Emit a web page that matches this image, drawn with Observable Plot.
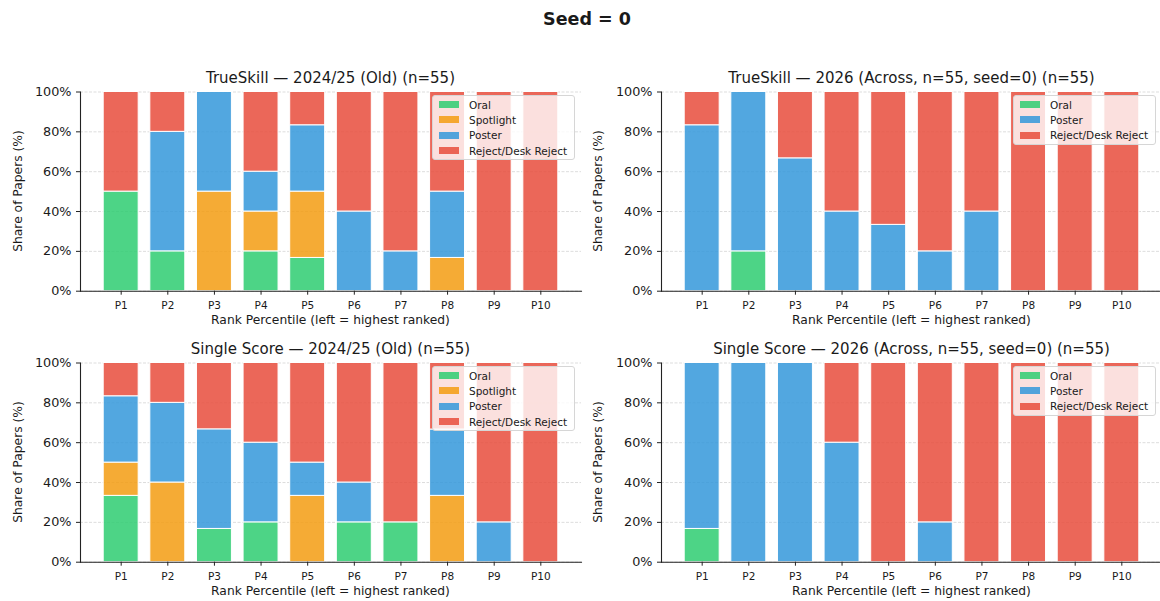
<!DOCTYPE html>
<html><head><meta charset="utf-8">
<script src="https://cdn.jsdelivr.net/npm/d3@7"></script>
<script src="https://cdn.jsdelivr.net/npm/@observablehq/plot@0.6"></script>
<style>
body{margin:0;width:1160px;height:601px;overflow:hidden;position:relative;background:#fff;font-family:"DejaVu Sans",sans-serif;color:#1a1a1a}
#title{position:absolute;left:387px;width:400px;top:8px;text-align:center;font-weight:bold;font-size:17.5px;line-height:22px}
.ptitle{position:absolute;text-align:center;font-size:15px;line-height:18px;white-space:nowrap}
.xlab{position:absolute;text-align:center;font-size:12.3px;line-height:14px;white-space:nowrap}
.ylab{position:absolute;font-size:12.3px;line-height:14px;white-space:nowrap;transform:translate(-50%,-50%) rotate(-90deg)}
.panel{position:absolute}
.panel svg{max-width:none !important}
.legend{position:absolute;width:141px;background:rgba(255,255,255,0.8);border:1px solid #d6d6d6;border-radius:3px;padding:1px 0;box-sizing:content-box}
.lrow{height:15.3px;display:flex;align-items:center;font-size:10.5px}
.sw{width:20px;height:7px;margin-left:6px;margin-right:10px}
</style></head>
<body>
<div id="title">Seed = 0</div>
<script>
const percentiles = ["P1","P2","P3","P4","P5","P6","P7","P8","P9","P10"];
const oldCategories = ["Oral","Spotlight","Poster","Reject/Desk Reject"];
const newCategories = ["Oral","Poster","Reject/Desk Reject"];
const categoryColors = {"Oral":"#2ecc71","Spotlight":"#f39c12","Poster":"#3498db","Reject/Desk Reject":"#e74c3c"};

// TrueSkill — 2024/25 (Old)
const tsOldOral      = [50, 20, 0, 20, 16.7, 0, 0, 0, 0, 0];
const tsOldSpotlight = [0, 0, 50, 20, 33.3, 0, 0, 16.7, 0, 0];
const tsOldPoster    = [0, 60, 50, 20, 33.3, 40, 20, 33.3, 0, 0];
const tsOldReject    = [50, 20, 0, 40, 16.7, 60, 80, 50, 100, 100];
// TrueSkill — 2026
const tsNewOral      = [0, 20, 0, 0, 0, 0, 0, 0, 0, 0];
const tsNewPoster    = [83.3, 80, 66.7, 40, 33.3, 20, 40, 0, 0, 0];
const tsNewReject    = [16.7, 0, 33.3, 60, 66.7, 80, 60, 100, 100, 100];
// Single Score — 2024/25 (Old)
const ssOldOral      = [33.3, 0, 16.7, 20, 0, 20, 20, 0, 0, 0];
const ssOldSpotlight = [16.7, 40, 0, 0, 33.3, 0, 0, 33.3, 0, 0];
const ssOldPoster    = [33.3, 40, 50, 40, 16.7, 20, 0, 33.3, 20, 0];
const ssOldReject    = [16.7, 20, 33.3, 40, 50, 60, 80, 33.4, 80, 100];
// Single Score — 2026
const ssNewOral      = [16.7, 0, 0, 0, 0, 0, 0, 0, 0, 0];
const ssNewPoster    = [83.3, 100, 100, 60, 0, 20, 0, 0, 0, 0];
const ssNewReject    = [0, 0, 0, 40, 100, 80, 100, 100, 100, 100];

const yTicks = [0, 20, 40, 60, 80, 100];
const titles = [
  "TrueSkill — 2024/25 (Old) (n=55)",
  "TrueSkill — 2026 (Across, n=55, seed=0) (n=55)",
  "Single Score — 2024/25 (Old) (n=55)",
  "Single Score — 2026 (Across, n=55, seed=0) (n=55)"
];
const xLabel = "Rank Percentile (left = highest ranked)";
const yLabel = "Share of Papers (%)";

const panels = [
  {left: 0,   top: 60,  width: 582, mL: 80, mR: 1, cats: oldCategories, series: [tsOldOral, tsOldSpotlight, tsOldPoster, tsOldReject], title: titles[0]},
  {left: 580, top: 60,  width: 584, mL: 81, mR: 2, cats: newCategories, series: [tsNewOral, tsNewPoster, tsNewReject], title: titles[1]},
  {left: 0,   top: 331, width: 582, mL: 80, mR: 1, cats: oldCategories, series: [ssOldOral, ssOldSpotlight, ssOldPoster, ssOldReject], title: titles[2]},
  {left: 580, top: 331, width: 584, mL: 81, mR: 2, cats: newCategories, series: [ssNewOral, ssNewPoster, ssNewReject], title: titles[3]}
];

const H = 270, mT = 31.5, mB = 39.3;

for (const p of panels) {
  const rows = [];
  percentiles.forEach((pc, i) => {
    p.cats.forEach((c, j) => {
      const v = p.series[j][i];
      if (v > 0) rows.push({p: pc, cat: c, v});
    });
  });
  const chart = Plot.plot({
    width: p.width, height: H,
    marginLeft: p.mL, marginRight: p.mR, marginTop: mT, marginBottom: mB,
    style: {fontFamily: "DejaVu Sans, sans-serif", color: "#1a1a1a", background: "transparent", overflow: "visible", maxWidth: "none"},
    x: {domain: percentiles, paddingInner: 0.25, paddingOuter: 0.4975, round: false},
    y: {domain: [0, 100]},
    color: {domain: p.cats, range: p.cats.map(c => categoryColors[c])},
    marks: [
      Plot.gridY(yTicks, {stroke: "#b0b0b0", strokeOpacity: 0.55, strokeDasharray: "3,1.5", strokeWidth: 0.8}),
      Plot.barY(rows, Plot.stackY({x: "p", y: "v", fill: "cat", fillOpacity: 0.85, stroke: "white", strokeWidth: 1, order: null})),
      Plot.axisX({tickSize: 4, tickPadding: 6, fontSize: 10.5, label: null, stroke: "#222"}),
      Plot.axisY({ticks: yTicks, tickFormat: d => d + "%", tickSize: 4, tickPadding: 5, fontSize: 12.8, label: null, stroke: "#222"}),
      Plot.frame({anchor: "left", stroke: "#222", strokeWidth: 1.1}),
      Plot.frame({anchor: "bottom", stroke: "#222", strokeWidth: 1.1})
    ]
  });
  const wrap = document.createElement("div");
  wrap.className = "panel";
  wrap.style.left = p.left + "px";
  wrap.style.top = p.top + "px";
  wrap.style.width = p.width + "px";
  wrap.appendChild(chart);
  document.body.appendChild(wrap);

  const areaL = p.left + p.mL, areaR = p.left + p.width - p.mR;
  const areaT = p.top + mT, areaB = p.top + H - mB;
  const cx = (areaL + areaR) / 2;

  const t = document.createElement("div");
  t.className = "ptitle"; t.textContent = p.title;
  t.style.left = (cx - 300) + "px"; t.style.width = "600px"; t.style.top = (areaT - 23) + "px";
  document.body.appendChild(t);

  const xl = document.createElement("div");
  xl.className = "xlab"; xl.textContent = xLabel;
  xl.style.left = (cx - 250) + "px"; xl.style.width = "500px"; xl.style.top = (areaB + 22) + "px";
  document.body.appendChild(xl);

  const yl = document.createElement("div");
  yl.className = "ylab"; yl.textContent = yLabel;
  yl.style.left = (p.left + 18) + "px"; yl.style.top = ((areaT + areaB) / 2) + "px";
  document.body.appendChild(yl);

  const lg = document.createElement("div");
  lg.className = "legend";
  lg.style.left = (areaR - 149) + "px"; lg.style.top = (areaT + 3.5) + "px";
  for (const c of p.cats) {
    const r = document.createElement("div"); r.className = "lrow";
    const s = document.createElement("div"); s.className = "sw";
    s.style.background = categoryColors[c]; s.style.opacity = 0.85;
    const tx = document.createElement("span"); tx.textContent = c;
    r.appendChild(s); r.appendChild(tx); lg.appendChild(r);
  }
  document.body.appendChild(lg);
}
</script>
</body></html>
